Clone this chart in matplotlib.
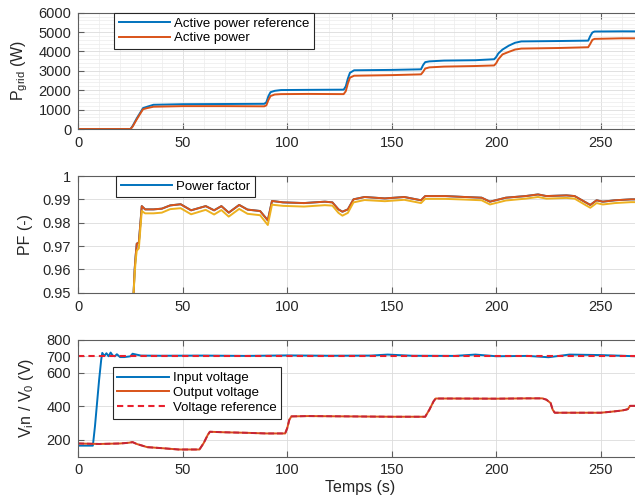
import matplotlib
matplotlib.use("Agg")
import matplotlib.pyplot as plt
from matplotlib.ticker import MultipleLocator

plt.rcParams['font.family'] = ['Liberation Sans', 'DejaVu Sans']
plt.rcParams['mathtext.default'] = 'regular'

# --- top panel : active power (W)
t_p = [0, 25, 26, 28, 30, 31, 33, 36, 50, 70, 89, 90, 91, 92, 94, 97, 110, 127, 128, 129,
       130, 132, 150, 164, 165, 166, 168, 175, 190, 199, 200, 201, 203, 206, 209, 212, 230, 244, 245, 246,
       247, 260, 300]
p_ref = [0, 0, 150, 550, 900, 1080, 1150, 1250, 1280, 1290, 1300, 1380, 1700, 1900, 1970, 2010, 2020, 2030, 2200, 2600,
         2900, 3030, 3050, 3080, 3300, 3450, 3490, 3530, 3550, 3600, 3720, 3900, 4100, 4300, 4450, 4520, 4540, 4560, 4800, 4980,
         5030, 5040, 5030]
p_act = [0, 0, 120, 500, 850, 1020, 1080, 1150, 1180, 1180, 1170, 1220, 1500, 1700, 1780, 1800, 1810, 1800, 1950, 2350,
         2650, 2750, 2780, 2820, 2950, 3120, 3180, 3220, 3250, 3280, 3400, 3600, 3850, 3980, 4100, 4150, 4180, 4220, 4400, 4600,
         4650, 4680, 4680]

# --- middle panel : power factor
t_pf = [26.5, 27, 27.5, 28, 29, 30.4, 32, 36, 40, 44, 49, 54, 61, 65, 68.5, 72, 77, 81, 87, 90.7,
        92.7, 98, 108, 118, 121.6, 124.5, 126.4, 129, 131.7, 137, 146.7, 156, 164, 166, 175.7, 185, 193, 197, 204.6, 214,
        220, 224, 233.6, 237.5, 243, 245, 248, 251, 256.8, 264.5, 300]
pf_a = [0.950, 0.960, 0.966, 0.971, 0.9715, 0.9871, 0.9857, 0.9857, 0.9860, 0.9874, 0.9879, 0.9853, 0.9871, 0.9853, 0.9871, 0.9843, 0.9876, 0.9856, 0.9850, 0.9810,
        0.9893, 0.9887, 0.9884, 0.9890, 0.9887, 0.9857, 0.9847, 0.9857, 0.9900, 0.9910, 0.9904, 0.9910, 0.9896, 0.9914, 0.9914, 0.9910, 0.9907, 0.9890, 0.9907, 0.9914,
        0.9921, 0.9914, 0.9917, 0.9914, 0.9886, 0.9876, 0.9896, 0.9890, 0.9896, 0.9900, 0.9900]
pf_b = [0.950, 0.958, 0.964, 0.968, 0.969, 0.9850, 0.9840, 0.9840, 0.9843, 0.9858, 0.9862, 0.9836, 0.9855, 0.9835, 0.9854, 0.9826, 0.9859, 0.9838, 0.9832, 0.9790,
        0.9877, 0.9872, 0.9869, 0.9875, 0.9873, 0.9842, 0.9830, 0.9842, 0.9887, 0.9897, 0.9892, 0.9898, 0.9884, 0.9902, 0.9902, 0.9899, 0.9896, 0.9878, 0.9895, 0.9903,
        0.9910, 0.9903, 0.9906, 0.9903, 0.9874, 0.9864, 0.9884, 0.9878, 0.9884, 0.9888, 0.9888]

# --- bottom panel : voltages (V)
t_in = [0, 7, 8, 9, 10, 11, 11.5, 12.5, 13.5, 14.5, 15.5, 16.5, 17.5, 18.5, 20, 22, 24, 25, 26, 27,
        30, 40, 60, 80, 100, 120, 140, 148, 160, 180, 190, 200, 215, 225, 235, 250, 260, 266, 300]
v_in = [165, 165, 280, 420, 560, 680, 720, 702, 718, 700, 722, 704, 700, 712, 695, 695, 698, 700, 715, 712,
        704, 703, 704, 702, 705, 703, 704, 710, 703, 702, 710, 700, 702, 694, 710, 707, 703, 700, 702]
t_out = [0, 10, 20, 24, 26, 28, 33, 40, 48, 58, 60, 62, 63, 70, 80, 90, 99, 100, 101, 102,
         110, 130, 150, 166, 168, 170, 171, 180, 200, 215, 222, 224, 226, 227, 228, 240, 250, 255, 260, 262,
         263, 264, 300]
v_out = [178, 175, 178, 182, 186, 175, 156, 150, 142, 142, 180, 230, 248, 245, 242, 238, 238, 270, 320, 340,
         342, 340, 338, 338, 380, 430, 447, 447, 446, 448, 448, 440, 420, 380, 362, 362, 362, 368, 375, 380,
         384, 403, 405]
t_vref = [0, 300]
v_vref = [700, 700]

x_ticks = [0, 50, 100, 150, 200, 250]
p_ticks = [0, 1000, 2000, 3000, 4000, 5000, 6000]
pf_ticks = [0.95, 0.96, 0.97, 0.98, 0.99, 1.0]
pf_labels = ['0.95', '0.96', '0.97', '0.98', '0.99', '1']
v_ticks = [200, 400, 600, 700, 800]

blue = '#0072BD'
orange = '#D95319'
yellow = '#EDB120'
red = '#E8202E'
axcol = '#5e5e5e'

fig = plt.figure(figsize=(6.35, 5.01), dpi=100)
L, W = 0.1232, 0.8887
ax1 = fig.add_axes([L, 0.7425, W, 0.2321])
ax2 = fig.add_axes([L, 0.4158, W, 0.2329])
ax3 = fig.add_axes([L, 0.0888, W, 0.2335])

for ax in (ax1, ax2, ax3):
    ax.set_xlim(0, 270)
    ax.set_xticks(x_ticks)
    ax.tick_params(direction='in', length=4, width=0.8, color=axcol, labelsize=10.5,
                   labelcolor='#262626', top=True, right=False, pad=5)
    for s in ax.spines.values():
        s.set_color(axcol)
        s.set_linewidth(0.8)
    ax.grid(True, which='major', color='#dcdcdc', lw=0.6)
    ax.set_axisbelow(True)

lw = 1.4
ax1.plot(t_p, p_ref, color=blue, lw=lw, label='Active power reference')
ax1.plot(t_p, p_act, color=orange, lw=lw, label='Active power')
ax1.set_ylim(0, 6000)
ax1.set_yticks(p_ticks)
ax1.xaxis.set_minor_locator(MultipleLocator(10))
ax1.yaxis.set_minor_locator(MultipleLocator(200))
ax1.tick_params(which='minor', length=0)
ax1.grid(True, which='minor', color='#ececec', lw=0.5)
ax1.set_ylabel('P$_{grid}$ (W)', fontsize=11.5, color='#262626')
ax1.yaxis.set_label_coords(-0.086, 0.5)

ax2.plot(t_pf, pf_a, color=blue, lw=lw, label='Power factor')
ax2.plot(t_pf, pf_a, color=orange, lw=lw)
ax2.plot(t_pf, pf_b, color=yellow, lw=lw)
ax2.set_ylim(0.95, 1.0)
ax2.set_yticks(pf_ticks)
ax2.set_yticklabels(pf_labels)
ax2.set_ylabel('PF (-)', fontsize=11.5, color='#262626')
ax2.yaxis.set_label_coords(-0.08, 0.5)

ax3.plot(t_in, v_in, color=blue, lw=lw, label='Input voltage')
ax3.plot(t_out, v_out, color=orange, lw=lw, label='Output voltage')
ax3.plot(t_vref, v_vref, color=red, lw=1.5, ls=(0, (3, 2)), label='Voltage reference')
# reference followed by the output stage, drawn over the output voltage
ax3.plot(t_out, v_out, color='#C41E3A', lw=1.4, ls=(0, (3, 1.5)), alpha=0.9)
ax3.set_ylim(100, 800)
ax3.set_yticks(v_ticks)
ax3.set_ylabel('V$_i$n / V$_0$ (V)', fontsize=11.5, color='#262626')
ax3.yaxis.set_label_coords(-0.075, 0.5)
ax3.set_xlabel('Temps (s)', fontsize=11.5, color='#262626', labelpad=2)

leg_kw = dict(loc='upper left', fontsize=9.5, frameon=True, fancybox=False, framealpha=1,
              edgecolor='#262626', handlelength=3.9, handletextpad=0.3, labelspacing=0.2,
              borderaxespad=0, borderpad=0.35)
for ax, anchor in ((ax1, (0.064, 1.0)), (ax2, (0.0672, 1.0)), (ax3, (0.0611, 0.7624))):
    lg = ax.legend(bbox_to_anchor=anchor, **leg_kw)
    lg.get_frame().set_linewidth(0.8)

fig.savefig('out.png', dpi=100)
